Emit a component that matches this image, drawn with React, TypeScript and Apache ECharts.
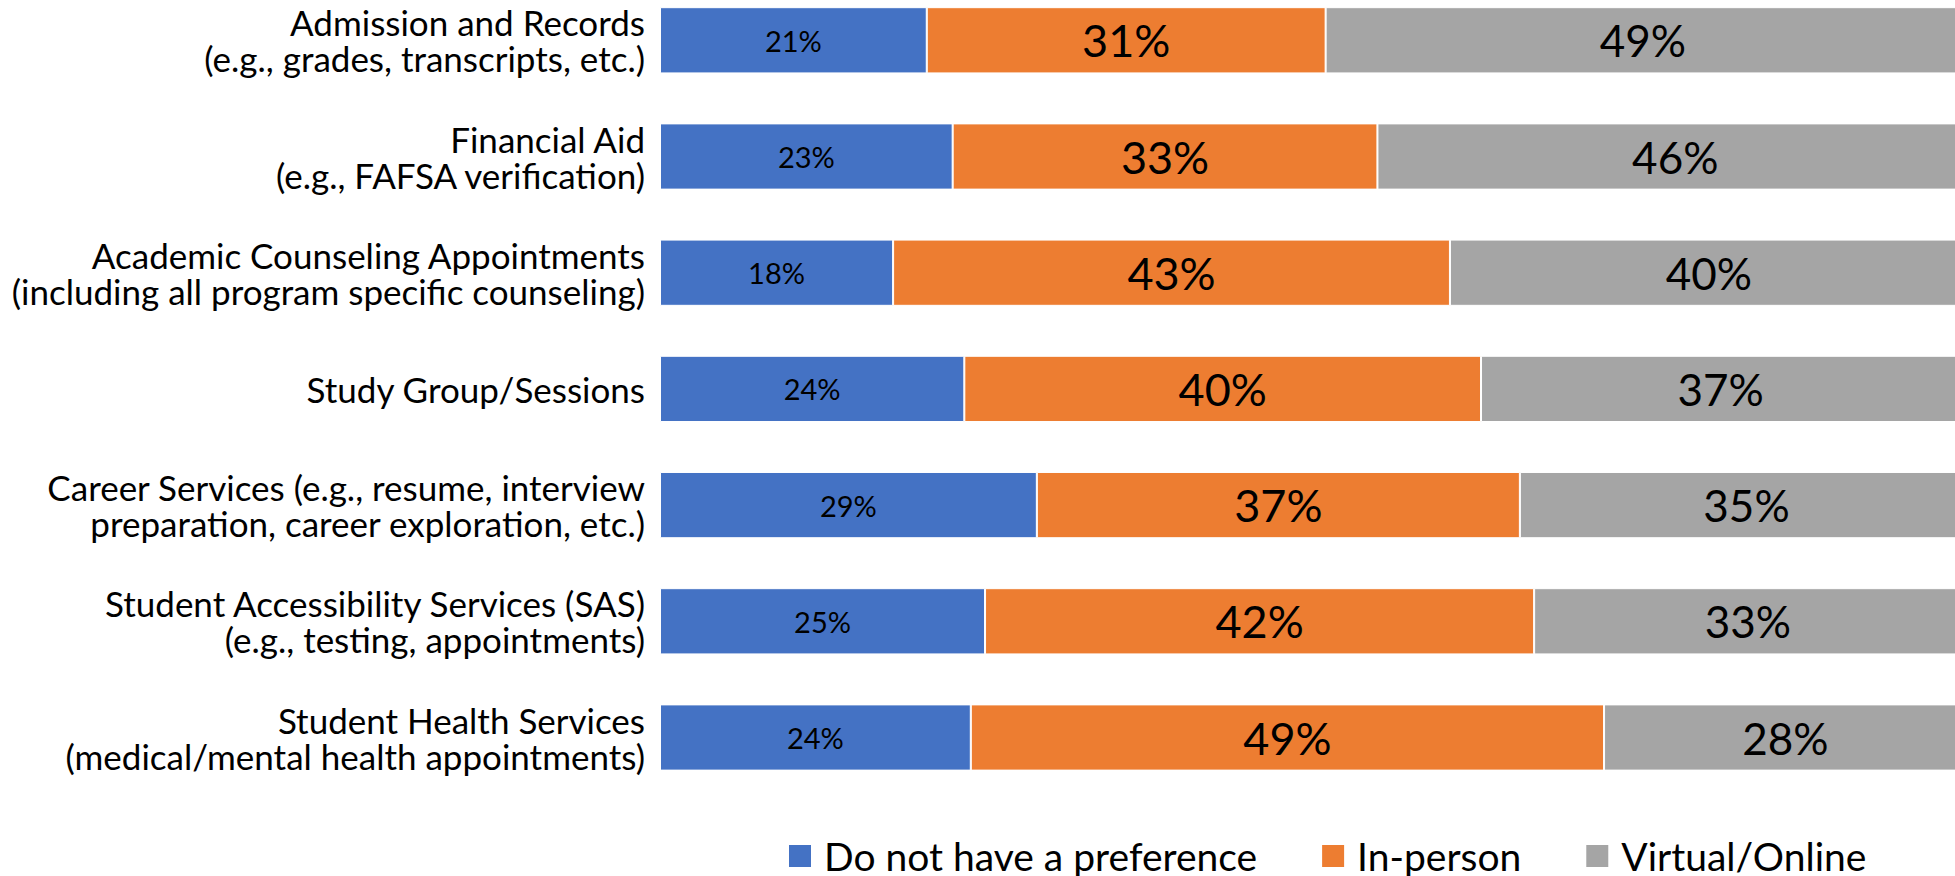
import React, { useEffect, useRef } from "react";
import * as echarts from "echarts";

const categories = [
  "Admission and Records\n(e.g., grades, transcripts, etc.)",
  "Financial Aid\n(e.g., FAFSA verification)",
  "Academic Counseling Appointments\n(including all program specific counseling)",
  "Study Group/Sessions",
  "Career Services (e.g., resume, interview\npreparation, career exploration, etc.)",
  "Student Accessibility Services (SAS)\n(e.g., testing, appointments)",
  "Student Health Services\n(medical/mental health appointments)",
];

const seriesNames = ["Do not have a preference", "In-person", "Virtual/Online"];
const noPreference = [20.6, 22.6, 18.0, 23.5, 29.1, 25.1, 24.0];
const inPerson = [30.8, 32.8, 43.0, 39.9, 37.3, 42.4, 48.9];
const virtualOnline = [49, 46, 40, 37, 35, 33, 28];
const colors = ["#4472C4", "#ED7D31", "#A5A5A5"];

const FONT = "Lato, Carlito, 'Noto Sans', sans-serif";
const OFFSET = 18;

export default function App() {
  const ref = useRef<HTMLDivElement>(null);
  useEffect(() => {
    if (!ref.current) return;
    const chart = echarts.init(ref.current, null, { renderer: "svg" });
    const mk = (name: string, data: number[], color: string, size: number) => ({
      name,
      type: "bar",
      stack: "total",
      data,
      clip: false,
      barCategoryGap: "43%",
      itemStyle: { color, borderColor: "#ffffff", borderWidth: 1 },
      label: {
        show: true,
        position: "inside",
        color: "#000000",
        fontFamily: FONT,
        fontSize: size,
        formatter: (p: any) => Math.round(p.value) + "%",
      },
    });
    chart.setOption({
      animation: false,
      backgroundColor: "#ffffff",
      grid: { left: 660, top: 0.2, width: 1300, height: 813.4, containLabel: false },
      xAxis: {
        type: "value",
        min: 0,
        max: 100,
        show: false,
      },
      yAxis: {
        type: "category",
        data: categories,
        inverse: true,
        axisLine: { show: false },
        axisTick: { show: false },
        splitLine: { show: false },
        axisLabel: {
          margin: 15,
          color: "#000000",
          fontFamily: FONT,
          fontSize: 35,
          lineHeight: 36,
          align: "right",
        },
      },
      legend: {
        data: seriesNames,
        left: 782,
        top: 851 + OFFSET - 20,
        itemWidth: 24,
        itemHeight: 24,
        itemGap: 63,
        icon: "rect",
        textStyle: {
          color: "#000000",
          fontFamily: FONT,
          fontSize: 39,
          lineHeight: 40,
          padding: [0, 0, 0, 7],
        },
      },
      series: [
        mk(seriesNames[0], noPreference, colors[0], 29),
        mk(seriesNames[1], inPerson, colors[1], 45),
        mk(seriesNames[2], virtualOnline, colors[2], 44),
      ],
    });
    return () => chart.dispose();
  }, []);
  return (
    <div
      ref={ref}
      style={{
        position: "absolute",
        left: 0,
        top: -OFFSET,
        width: 1955,
        height: 876 + OFFSET,
        background: "#fff",
      }}
    />
  );
}
